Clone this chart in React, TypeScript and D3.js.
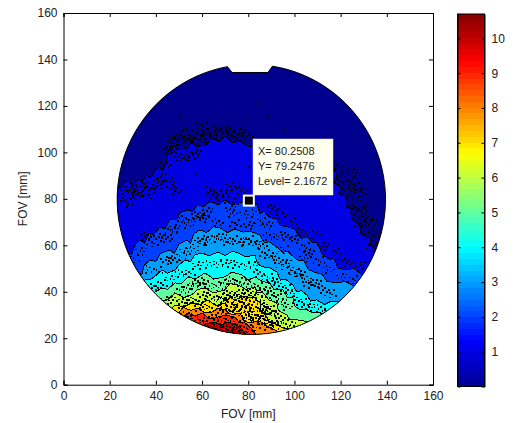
import React, { useEffect, useRef } from "react";
import * as d3 from "d3";

const width = 514;
const height = 423;

// contour levels and where each one runs, left to right, in mm
const levels = [1, 2, 3, 4, 5, 6, 7, 8, 9, 10];
const contour1 = [[23.2,86],[25,84.5],[26.5,87.5],[28.8,87.3],[30,85.5],[32,88.5],[34,87.5],[36.1,90.3],[38,89],[39.5,92.5],[41.8,93.7],[43,92],[45.2,97.6],[44,100],[46.5,99],[47.5,103],[50,101],[53.5,101.7],[55,104.5],[58,102.5],[62.1,103.4],[64,106],[67.7,104.7],[70,107],[73,104],[76,105],[80.7,102.3],[90,103],[98,101],[108,97],[117.5,92.4],[118.5,90],[117,87],[120,85.5],[119.5,82],[122.5,81],[122,77],[125,75.5],[124.5,72],[127,69.6],[129,68],[128.5,65],[131.4,63.6],[133,63],[133,60],[136,58],[142,55.8]];
const contour2 = [[25.3,54.5],[27.9,57.1],[29.5,56],[31,60],[33.1,62.3],[35,61],[37,65],[39,64.5],[41.8,67.9],[44,67],[46,71],[49,71],[50.5,74],[53.5,75.2],[56,74.5],[58,77.5],[60.5,76.5],[63.4,78.8],[67,77.5],[70,79.5],[73,77.5],[76.4,78.3],[80,79],[83.8,77.5],[85,74],[87,74.5],[89.4,71.9],[92,71.5],[94,68.5],[96.7,68],[100,67],[103,63],[105.4,63.7],[108,61],[110,61],[112,56],[115.4,53.8],[117,54.5],[119,50],[122.7,49.5],[126,50],[129,47.5],[132.7,48.2]];
const contour3 = [[30.5,46.8],[31.8,48],[34,47.5],[35,51.5],[37.4,53.7],[40,53],[42,56.5],[46.1,58],[48,56.5],[50,60.5],[53.5,62.3],[55,61],[56.5,65],[59.1,66.6],[62,65.5],[65,68],[67.7,67.5],[71,65.5],[74,67],[77.7,65.7],[81,66],[85.1,64.4],[87,61],[89,61.5],[92.4,59.2],[95,57],[97,57.5],[101.1,53.7],[104,53.5],[106,49.5],[109.7,48.1],[112,47.5],[114,44.5],[118.4,43.8],[122,44.5],[127.5,41.6]];
const contour4 = [[33.1,43.3],[35.3,45.1],[38,45.5],[40,47],[42.6,49.4],[45,48],[48.3,49.4],[50,51.5],[52.6,53.7],[55,53],[57,56],[60,56.7],[63,55.5],[66.9,57.1],[70,55.5],[73,57.5],[75.5,56.7],[79,55],[82.9,55.8],[84,52],[86.4,50.7],[89,50.5],[92.4,48.5],[94,45],[96,45.5],[99.3,42.9],[101,40],[103,40.5],[105.4,38.6],[107,36],[109.7,36.5],[113,34.5],[116,36],[119.7,35.6],[126,33]];
const contour5 = [[34.8,38.2],[36.1,39.9],[39,39.5],[42.6,41.6],[45,41],[48.3,43.8],[51,43.5],[53.9,46.4],[57,45.5],[61.3,48.1],[65,45.5],[69.9,46.4],[73,48.5],[77.3,47.2],[80,45],[82.9,46.4],[86,44.5],[89.4,43.8],[91,41],[95,40.8],[97,37.5],[99.3,37.8],[100,34],[102.4,32.2],[105,32.5],[108,30.9],[111,31],[115.4,28.8],[122,26]];
const contour6 = [[41,34.7],[42.6,36.4],[45,36.5],[48.3,39.5],[52,37.5],[55.6,38.7],[58,41],[61.3,41.6],[65,39.5],[69.9,40.8],[72,43.5],[75.5,43],[79,41],[82.9,42.1],[84,39.5],[86.4,39.5],[89,36.5],[92.4,35.2],[93,32],[96.7,30],[98,28],[101.1,27.9],[106.7,27]];
const contour7 = [[45.2,29.6],[46,32],[48.3,34.3],[52,33.5],[55.6,35.2],[59,34.5],[62.6,36.5],[66,34],[69.9,35.2],[72,37.5],[74.2,36.5],[78,38],[82.9,37.3],[85.1,35.2],[85.5,32],[88.1,29.1],[89,27],[90.7,26.6],[95,24.4],[100.2,23.6]];
const contour8 = [[48.7,27.8],[50,31],[51.7,33.4],[55,32],[58.2,33],[61,31],[64.3,31.3],[67,32.8],[69.9,32.2],[73,30],[76.4,30.9],[78,27.5],[80.7,26.6],[84,27.5],[86.4,26.6],[89.4,24.4],[95.9,21.8]];
const contour9 = [[49.6,27],[52,28.5],[53.9,30.9],[57,29.5],[60,30.9],[63,28.5],[65.6,28.7],[70,30],[74.2,29.1],[76,27],[78.6,26.6],[82,23.6],[84.2,20.2]];
const contour10 = [[58.2,23.6],[61.3,26.1],[65.6,27],[68,25.5],[71.2,27],[74,26],[76.4,24.9],[79.4,21]];
const contours = [contour1, contour2, contour3, contour4, contour5, contour6, contour7, contour8, contour9, contour10];

// loose noise pixels that sit around the contour lines
const specksUpper = [[24,83],[25.5,81],[27,84],[29,85],[30.5,83],[27,79],[33,86],[35,85],[37,87],[38,85],[31,82],[40,89],[42,90],[43.5,95],[42,87],[36,81],[45,101],[46,105],[48,107],[50,105],[52,107],[54,106],[56,108],[58,106],[60,108],[62,106],[63,110],[65,108],[66,111],[68,109],[70,110],[72,108],[74,107],[48,99],[51,98],[54,99],[57,100],[52,111],[60,112],[76,109],[79,107],[118,89],[116,94],[121,93],[123,88],[120,84],[124,84],[126,86],[127,80],[125,76],[128,75],[130,77],[131,72],[128,70],[133,70],[134,66],[130,65],[136,64],[137,60],[133,60],[125,92],[112,96],[128,84],[46,88],[48,84],[55,90],[72,76],[62,84],[66,83],[72,86],[76,84]];
const specksMiddle = [[30,55],[33,58],[35,64],[38,62],[41,64],[44,63],[46,67],[48,68],[50,72],[52,70],[55,71],[57,73],[60,74],[62,75],[64,82],[67,80],[70,83],[72,74],[75,80],[78,74],[82,74],[85,71],[88,69],[90,76],[92,65],[94,73],[96,64],[98,71],[100,63],[102,66],[104,60],[106,57],[108,65],[110,54],[112,60],[114,50],[117,58],[120,47],[122,53],[125,46],[128,52],[36,50],[40,50],[44,54],[47,54],[50,56],[52,58],[55,58],[58,62],[60,63],[62,62],[65,64],[68,64],[70,62],[73,63],[76,62],[78,62],[80,63],[83,61],[85,60],[87,57],[90,56],[92,54],[94,52],[96,53],[98,50],[100,49],[102,48],[104,46],[106,44],[109,44],[112,41],[115,40],[60,72],[66,70],[74,70],[80,69],[88,64],[95,59],[104,55],[38,42],[42,44],[46,46],[50,48],[54,49],[58,52],[62,52],[66,53],[70,53],[74,52],[78,52],[82,52],[84,48],[88,47],[90,45],[93,43],[96,42],[98,40],[100,37],[103,36],[106,34],[110,33],[114,32]];
const specksLower = [[44,37],[47,37],[50,41],[53,42],[56,43],[58,45],[60,44],[63,43],[66,43],[69,44],[72,45],[75,45],[78,44],[81,43],[84,43],[87,41],[90,39],[92,38],[94,36],[96,34],[48,32],[51,36],[54,37],[57,37],[60,39],[62,38],[65,37],[68,38],[71,39],[74,40],[77,40],[80,39],[83,40],[85,37],[87,34],[89,33],[91,31],[93,29],[95,27],[98,26],[52,30],[55,31],[58,35],[60,34],[63,34],[66,33],[68,36],[70,37],[72,34],[75,35],[78,34],[80,35],[82,33],[84,30],[86,30],[88,32],[90,28],[92,26],[54,28],[57,27],[60,28],[62,26],[64,29],[66,30],[68,28],[70,31],[72,28],[74,31],[76,28],[78,32],[79,29],[81,28],[83,29],[85,28],[87,26],[89,26],[56,25],[59,25],[62,24],[65,25],[67,24],[69,26],[71,24],[73,25],[75,26],[77,24],[79,25],[81,24],[64,22.5],[68,23],[72,22.5],[75,23],[51,29],[70,33],[74,33],[77,36],[80,31],[82,36],[76,38],[86,33]];
// single dots well away from the lines
const stray = [[84,122],[88,116],[78,114],[66,118],[57,113],[50,116],[53,110],[95,110],[72,92],[80,94]];

// each speck above is a small clump of noise pixels, offsets in px
const clumpShapes = [
  [[0, 0], [3, 1], [-3, 2], [1, -3], [5, -2], [-5, -1], [2, 4]],
  [[0, 0], [2, -2], [4, 2], [-2, 3], [-4, -2], [6, 0], [-1, -4]],
  [[0, 0], [-3, -1], [2, 2], [4, -3], [-5, 3], [0, 5], [6, 3]],
];

const jetStops = ["#00008f", "#0000ff", "#00ffff", "#ffff00", "#ff0000", "#800000"];
const jetPositions = [0, 0.125, 0.375, 0.625, 0.875, 1];
const colorbarTicks = [1, 2, 3, 4, 5, 6, 7, 8, 9, 10];
const fovTicks = [0, 20, 40, 60, 80, 100, 120, 140, 160];
const levelMax = 10.7;
const steps = 64;

// the detector disc and its notch at the top
const disc = { cx: 80.8, cy: 79.8, r: 58.1 };
const notch = [[71, 136.9], [73, 134.4], [88.5, 134.4], [90.5, 137.1]];
const tipLines = ["X= 80.2508", "Y= 79.2476", "Level= 2.1672"];
const tipPoint = [80.25, 79.25];

const x = d3.scaleLinear().domain([0, 160]).range([63.5, 433]);
const y = d3.scaleLinear().domain([0, 160]).range([384.7, 13]);
const barY = d3.scaleLinear().domain([0, levelMax]).range([386.5, 14]);
const jetT = d3.scaleLinear<string>().domain(jetPositions).range(jetStops).interpolate(d3.interpolateRgb);
const jet = (v: number) => jetT(v / levelMax);

const line = d3.line().x((d) => x(d[0])).y((d) => y(d[1]));

// outline: the long way round the circle from notch right to notch left, then along the notch
function discPath() {
  const rx = x(disc.cx + disc.r) - x(disc.cx);
  const ry = y(disc.cy) - y(disc.cy + disc.r);
  const start = notch[notch.length - 1];
  const end = notch[0];
  let s = `M${x(start[0])},${y(start[1])}`;
  s += `A${rx},${ry} 0 1 1 ${x(end[0])},${y(end[1])}`;
  notch.slice(1).forEach((p) => { s += `L${x(p[0])},${y(p[1])}`; });
  return s + "Z";
}

function bandPath(pts: number[][]) {
  const first = pts[0];
  const last = pts[pts.length - 1];
  return line([[0, first[1]], ...pts, [160, last[1]], [160, 0], [0, 0]] as any) + "Z";
}

function contourLine(pts: number[][]) {
  const first = pts[0];
  const last = pts[pts.length - 1];
  return line([[0, first[1]], ...pts, [160, last[1]]] as any) as string;
}

const App = () => {
  const axesRef = useRef<SVGGElement>(null);

  useEffect(() => {
    const g = d3.select(axesRef.current);
    g.selectAll("*").remove();

    const style = (sel: any) => {
      sel.selectAll("text").attr("font-family", "'Liberation Sans', Arial, sans-serif").attr("font-size", 12).attr("fill", "#222");
      sel.selectAll("line, path").attr("stroke", "#000").attr("stroke-width", 1);
    };

    g.append("g").attr("transform", `translate(0,${y(0)})`)
      .call(d3.axisBottom(x).tickValues(fovTicks).tickSize(-4).tickPadding(7) as any).call(style);
    g.append("g").attr("transform", `translate(${x(0)},0)`)
      .call(d3.axisLeft(y).tickValues(fovTicks).tickSize(-4).tickPadding(6) as any).call(style);
    g.append("g").attr("transform", `translate(0,${y(160)})`)
      .call(d3.axisTop(x).tickValues(fovTicks).tickSize(-4).tickFormat(() => "") as any).call(style);
    g.append("g").attr("transform", `translate(${x(160)},0)`)
      .call(d3.axisRight(y).tickValues(fovTicks).tickSize(-4).tickFormat(() => "") as any).call(style);

    // colorbar ticks point in from both sides
    const barLeft = 457.5;
    const barRight = 484.5;
    g.append("g").attr("transform", `translate(${barLeft},0)`)
      .call(d3.axisLeft(barY).tickValues(colorbarTicks).tickSize(-3).tickFormat(() => "") as any).call(style);
    g.append("g").attr("transform", `translate(${barRight},0)`)
      .call(d3.axisRight(barY).tickValues(colorbarTicks).tickSize(-3).tickPadding(7).tickFormat(d3.format("d") as any) as any).call(style);
  }, []);

  const barSteps = d3.range(steps);
  const stepHeight = (barY(0) - barY(levelMax)) / steps;
  const allSpecks = [...specksUpper, ...specksMiddle, ...specksLower];

  return (
    <svg width={width} height={height} style={{ position: "absolute", left: 0, top: 0, background: "#fff" }}>
      <defs>
        <clipPath id="disc">
          <path d={discPath()} />
        </clipPath>
      </defs>

      <g clipPath="url(#disc)" shapeRendering="crispEdges">
        <rect x={x(0)} y={y(160)} width={x(160) - x(0)} height={y(0) - y(160)} fill={jet(0)} />
        {contours.map((pts, i) => (
          <path key={i} d={bandPath(pts)} fill={jet(levels[i])} />
        ))}
        {contours.map((pts, i) => (
          <path key={i} d={contourLine(pts)} fill="none" stroke="#000" strokeWidth={1} />
        ))}
        {allSpecks.map((d, i) => clumpShapes[i % clumpShapes.length].map((o, j) => (
          <rect key={`${i}-${j}`} x={x(d[0]) + o[0]} y={y(d[1]) + o[1]} width={j % 2 ? 2 : 1.5} height={j % 3 ? 1.5 : 2} fill="#000" />
        )))}
        {stray.map((d, i) => (
          <rect key={i} x={x(d[0])} y={y(d[1])} width={2} height={1.5} fill="#000" />
        ))}
      </g>
      <path d={discPath()} fill="none" stroke="#000" strokeWidth={1} />

      {/* data tip */}
      <rect x={253} y={139} width={80} height={56} fill="#ffffee" stroke="#ddd" strokeWidth={0.5} />
      <g fontFamily="'Liberation Sans', Arial, sans-serif" fontSize={11} fill="#222">
        {tipLines.map((t, i) => (
          <text key={t} x={258} y={155 + i * 15}>{t}</text>
        ))}
      </g>
      <rect x={x(tipPoint[0]) - 5} y={y(tipPoint[1]) - 5} width={10} height={10} fill="#000" stroke="#fffff0" strokeWidth={2} />

      {/* colorbar */}
      <g shapeRendering="crispEdges">
        {barSteps.map((i) => (
          <rect key={i} x={457.5} y={barY(0) - (i + 1) * stepHeight} width={27} height={stepHeight + 0.5}
            fill={jet((i + 0.5) * levelMax / steps)} />
        ))}
      </g>
      <rect x={457.5} y={barY(levelMax)} width={27} height={barY(0) - barY(levelMax)} fill="none" stroke="#000" />

      <g ref={axesRef} />

      <g fontFamily="'Liberation Sans', Arial, sans-serif" fontSize={12} fill="#222" textAnchor="middle">
        <text x={x(80)} y={418}>FOV [mm]</text>
        <text transform={`translate(27,${y(80)}) rotate(-90)`}>FOV [mm]</text>
      </g>
    </svg>
  );
};

export default App;
